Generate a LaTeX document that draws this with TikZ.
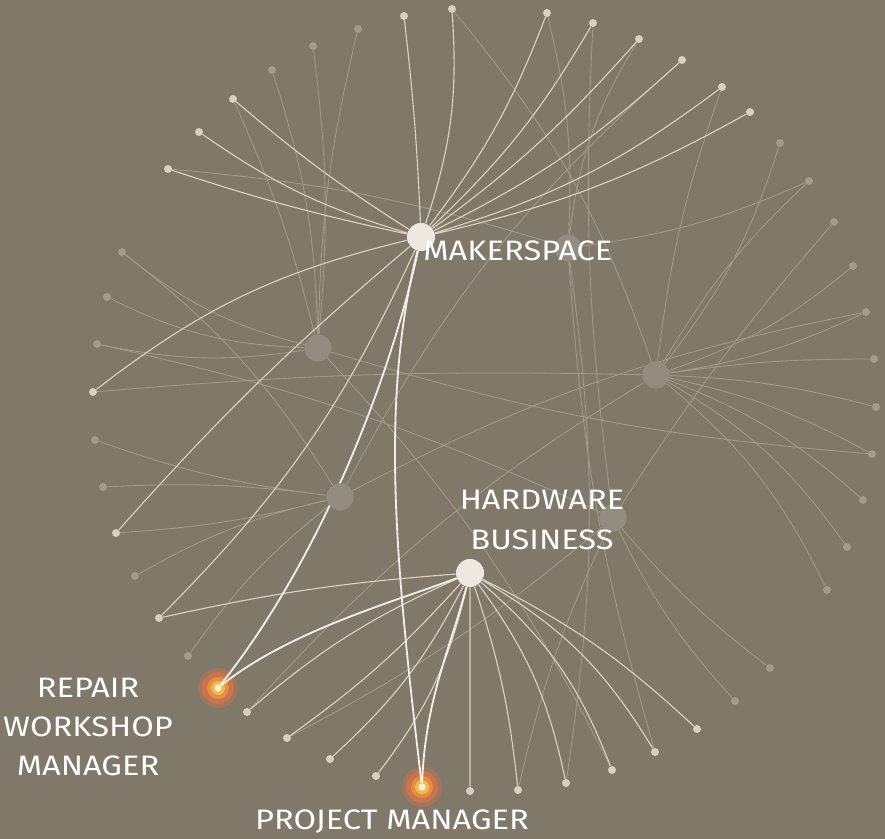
\documentclass[tikz,border=0pt]{standalone}
\usepackage{fontspec}
\setmainfont{Fira Sans}[FakeStretch=1.16]

\definecolor{bgc}{HTML}{807868}
\definecolor{hubwhite}{HTML}{EEE8E1}
\definecolor{dimgrey}{HTML}{958C80}
\definecolor{leafwhite}{HTML}{D9D0C3}
\definecolor{leafgrey}{HTML}{A49B8D}
\definecolor{linkwhite}{HTML}{DAD1C3}
\definecolor{linkgrey}{HTML}{A39A8C}
\definecolor{trailwhite}{HTML}{F3EEE6}
\definecolor{glowout}{HTML}{D4744A}
\definecolor{glowmid}{HTML}{E68E42}
\definecolor{glowin}{HTML}{F2BA48}

\pgfdeclarelayer{back}
\pgfdeclarelayer{links}
\pgfsetlayers{back,links,main}

\begin{document}
\begin{tikzpicture}[x=0.025cm, y=-0.025cm,
  hub/.style={circle, fill=hubwhite, minimum size=0.7cm, inner sep=0pt},
  dimhub/.style={circle, fill=dimgrey, minimum size=0.68cm, inner sep=0pt},
  leaf/.style={circle, fill=leafwhite, minimum size=0.2cm, inner sep=0pt},
  dimleaf/.style={circle, fill=leafgrey, minimum size=0.2cm, inner sep=0pt},
  link/.style={draw=linkwhite, line width=0.8pt},
  dimlink/.style={draw=linkgrey, line width=0.6pt},
  trail/.style={draw=trailwhite, line width=1.3pt},
  bl/.style={bend right=#1}, br/.style={bend left=#1},
  lbl/.style={text=white, font=\fontsize{20}{28}\selectfont, align=center, inner sep=0pt}]

\useasboundingbox (0,0) rectangle (885,839);
\begin{pgfonlayer}{back}
\fill[bgc] (0,0) rectangle (885,839);
\end{pgfonlayer}

% hubs
\node[dimhub] (fa) at (318,348) {};
\node[dimhub] (fb) at (656,375) {};
\node[dimhub] (fc) at (340,497) {};
\node[dimhub] (fd) at (613,518) {};
\node[dimhub] (fe) at (568,248) {};
\node[hub] (ms) at (421,237) {};
\node[hub] (hw) at (470,573) {};

% leaves, clockwise from the top
\node[leaf] (l1) at (404,16) {};
\node[leaf] (l2) at (452,9) {};
\node[leaf] (l3) at (547,13) {};
\node[leaf] (l4) at (593,23) {};
\node[leaf] (l5) at (639,39) {};
\node[leaf] (l6) at (682,60) {};
\node[leaf] (l7) at (722,87) {};
\node[leaf] (l8) at (750,112) {};
\node[dimleaf] (l9) at (780,143) {};
\node[dimleaf] (l10) at (809,181) {};
\node[dimleaf] (l11) at (834,222) {};
\node[dimleaf] (l12) at (853,266) {};
\node[dimleaf] (l13) at (866,312) {};
\node[dimleaf] (l14) at (874,359) {};
\node[dimleaf] (l15) at (876,407) {};
\node[dimleaf] (l16) at (872,454) {};
\node[dimleaf] (l17) at (863,500) {};
\node[dimleaf] (l18) at (847,547) {};
\node[dimleaf] (l19) at (827,590) {};
\node[dimleaf] (l20) at (770,668) {};
\node[dimleaf] (l21) at (735,701) {};
\node[leaf] (l22) at (697,729) {};
\node[leaf] (l23) at (655,752) {};
\node[leaf] (l24) at (612,770) {};
\node[leaf] (l25) at (566,783) {};
\node[leaf] (l26) at (518,790) {};
\node[leaf] (l27) at (470,791) {};
\node[leaf] (l28) at (376,776) {};
\node[leaf] (l29) at (330,759) {};
\node[leaf] (l30) at (287,738) {};
\node[leaf] (l31) at (247,712) {};
\node[dimleaf] (l32) at (188,656) {};
\node[leaf] (l33) at (159,618) {};
\node[dimleaf] (l34) at (135,576) {};
\node[leaf] (l35) at (116,533) {};
\node[dimleaf] (l36) at (103,487) {};
\node[dimleaf] (l37) at (95,440) {};
\node[leaf] (l38) at (93,392) {};
\node[dimleaf] (l39) at (97,344) {};
\node[dimleaf] (l40) at (107,297) {};
\node[dimleaf] (l41) at (122,252) {};
\node[leaf] (l42) at (168,169) {};
\node[leaf] (l43) at (199,132) {};
\node[leaf] (l44) at (233,99) {};
\node[dimleaf] (l45) at (272,70) {};
\node[dimleaf] (l46) at (313,46) {};
\node[dimleaf] (l47) at (358,29) {};

% the two marked roles
\node[leaf, fill=trailwhite, minimum size=0.18cm] (rw) at (218,688) {};
\node[leaf, fill=trailwhite, minimum size=0.18cm] (pm) at (422,787) {};

\begin{pgfonlayer}{back}
\foreach \r in {rw,pm}{
  \fill[glowout, opacity=0.4] (\r) circle[radius=20];
  \fill[glowout, opacity=0.8] (\r) circle[radius=16];
  \fill[glowmid] (\r) circle[radius=11];
  \fill[glowin] (\r) circle[radius=7];
}
\end{pgfonlayer}

\begin{pgfonlayer}{links}
% faded hubs
\draw[dimlink] (fa) to[bl=8] (l45) (fa) to[bl=6] (l46) (fa) to[br=6] (l47)
  (fa) to[br=12] (l41) (fa) to[br=12] (l40) (fa) to[br=10] (l39)
  (fa) to[bl=5] (l44) (fa) to[br=8] (l24) (fa) to[bl=6] (l16);
\draw[dimlink] (fb) to[bl=10] (l9) (fb) to[br=8] (l10) (fb) to[bl=10] (l12)
  (fb) to[bl=8] (l13) (fb) to[br=4] (l14) (fb) to[br=6] (l15)
  (fb) to[br=8] (l16) (fb) to[br=10] (l17) (fb) to[br=12] (l18)
  (fb) to[br=12] (l19) (fb) to[bl=3] (l38) (fb) to[bl=10] (l2)
  (fb) to[br=6] (l7) (fb) to[bl=8] (l31);
\draw[dimlink] (fc) to[bl=5] (l36) (fc) to[br=6] (l37) (fc) to[bl=8] (l34)
  (fc) to[bl=8] (l32) (fc) to[br=5] (l35) (fc) to[bl=10] (l41)
  (fc) to[br=8] (l13) (fc) to[br=10] (l6);
\draw[dimlink] (fd) to[br=4] (l11) (fd) to[bl=6] (l20) (fd) to[bl=8] (l21)
  (fd) to[bl=6] (l26) (fd) to[br=5] (l4) (fd) to[bl=6] (l39)
  (fd) to[br=6] (l30);
\draw[dimlink] (fe) to[bl=8] (l3) (fe) to[br=12] (l5) (fe) to[br=8] (l25)
  (fe) to[bl=6] (l23) (fe) to[bl=8] (l10) (fe) to[bl=6] (l42);

% makerspace
\draw[link] (ms) to[bl=2] (l1) (ms) to[bl=11] (l2) (ms) to[bl=8] (l3)
  (ms) to[bl=8] (l4) (ms) to[bl=6] (l5) (ms) to[bl=8] (l6)
  (ms) to[bl=10] (l7) (ms) to[bl=8] (l8) (ms) to[br=4] (l44)
  (ms) to[br=9] (l43) (ms) to[br=3] (l42) (ms) to[bl=12] (l38)
  (ms) to[bl=4] (l35) (ms) to[br=10] (l33);

% hardware business
\draw[link] (hw) to[br=8] (l22) (hw) to[br=14] (l23) (hw) to[br=14] (l24)
  (hw) to[br=12] (l25) (hw) to[br=6] (l26) (hw) -- (l27)
  (hw) to[br=12] (l28) (hw) to[br=10] (l29) (hw) to[br=6] (l30)
  (hw) to[bl=8] (l31) (hw) to[bl=4] (l33);

% paths to the two roles
\draw[trail] (ms) .. controls (390,380) and (320,560) .. (rw);
\draw[trail] (ms) .. controls (380,400) and (395,560) .. (pm);
\draw[trail] (hw) .. controls (400,600) and (290,630) .. (rw);
\draw[trail] (hw) .. controls (450,650) and (425,700) .. (pm);
\end{pgfonlayer}

% labels
\node[lbl, anchor=west] (mslbl) at (423,251) {MAKERSPACE};
\node[lbl] (hwlbl) at (542,520) {HARDWARE\\BUSINESS};
\node[lbl] (rwlbl) at (88,727) {REPAIR\\WORKSHOP\\MANAGER};
\node[lbl] (pmlbl) at (392,822) {PROJECT MANAGER};

\end{tikzpicture}
\end{document}
